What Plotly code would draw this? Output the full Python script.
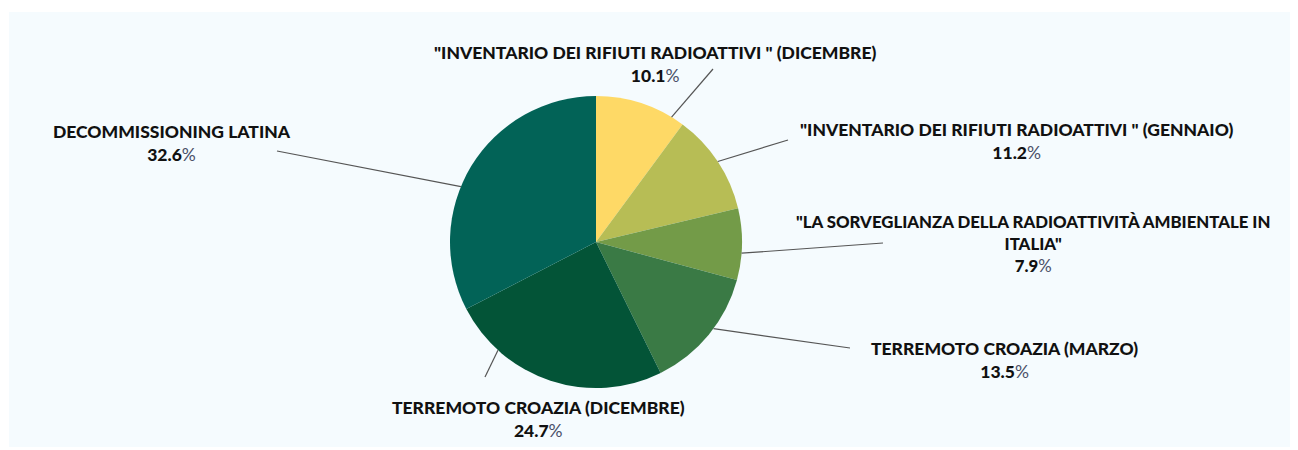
import math
import plotly.graph_objects as go

labels = [
    "\"INVENTARIO DEI RIFIUTI RADIOATTIVI \" (DICEMBRE)",
    "\"INVENTARIO DEI RIFIUTI RADIOATTIVI \" (GENNAIO)",
    "\"LA SORVEGLIANZA DELLA RADIOATTIVITÀ AMBIENTALE IN<br>ITALIA\"",
    "TERREMOTO CROAZIA (MARZO)",
    "TERREMOTO CROAZIA (DICEMBRE)",
    "DECOMMISSIONING LATINA",
]
values = [10.1, 11.2, 7.9, 13.5, 24.7, 32.6]
colors = ["#fed966", "#b7bd55", "#739b48", "#3a7a45", "#035437", "#026357"]

# layout constants (pixels)
W, H = 1298, 450
CX, CY, R = 596, 242, 146
label_pos = [(655, 64), (1017, 141), (1033, 243), (1004, 360), (538, 419), (172, 143)]
leader_end = [(713, 69), (788, 140), (883, 243), (850, 348), (485, 377), (277, 151)]
leader_shift = [13, 0, 3.5, -3, 24, -9]

fig = go.Figure(go.Pie(
    labels=[l.replace("<br>", " ") for l in labels],
    values=values,
    sort=False,
    direction="clockwise",
    rotation=0,
    marker=dict(colors=colors, line=dict(width=0)),
    textinfo="none",
    hoverinfo="label+percent",
    showlegend=False,
    domain=dict(x=[(CX - R) / W, (CX + R) / W], y=[1 - (CY + R) / H, 1 - (CY - R) / H]),
))

total = sum(values)
cum = 0
annotations = []
shapes = [dict(type="rect", xref="paper", yref="paper", x0=9 / W, x1=1290 / W,
               y0=1 - 447 / H, y1=1 - 12 / H, fillcolor="#f5fbfe", line=dict(width=0), layer="below")]
for i, v in enumerate(values):
    mid = (cum + v / 2) / total * 360
    cum += v
    a = math.radians(mid + leader_shift[i])
    sx = CX + R * math.sin(a)
    sy = CY - R * math.cos(a)
    ex, ey = leader_end[i]
    shapes.append(dict(type="line", xref="paper", yref="paper",
                       x0=sx / W, y0=1 - sy / H, x1=ex / W, y1=1 - ey / H,
                       line=dict(color="#555555", width=1.2)))
    lx, ly = label_pos[i]
    size = 16.8 if i == 2 else 17.5
    txt = f"{labels[i]}<br>{v}<span style='color:#4a5068;font-weight:400'>%</span>"
    annotations.append(dict(x=lx / W, y=1 - ly / H, xref="paper", yref="paper",
                            text=txt, showarrow=False, xanchor="center", yanchor="middle",
                            align="center",
                            font=dict(family="Lato", size=size, color="#111111", weight=900)))

fig.update_layout(
    width=W, height=H,
    margin=dict(l=0, r=0, t=0, b=0),
    paper_bgcolor="#ffffff",
    plot_bgcolor="#ffffff",
    shapes=shapes,
    annotations=annotations,
)
fig.write_html("out.html", config={"displayModeBar": False},
               post_script="document.body.style.margin='0';")
